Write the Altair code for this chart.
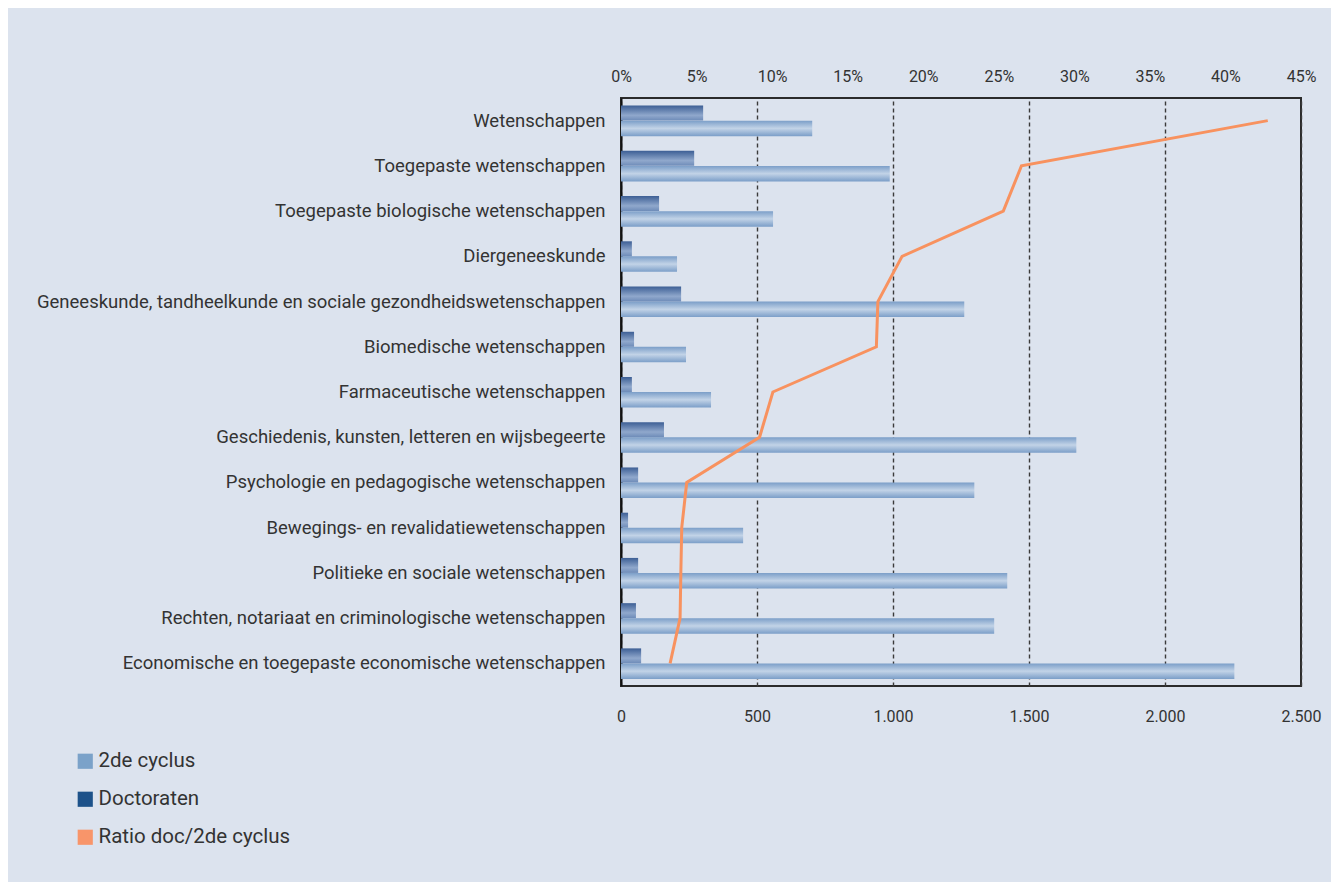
import altair as alt
import pandas as pd

categories = [
    "Wetenschappen",
    "Toegepaste wetenschappen",
    "Toegepaste biologische wetenschappen",
    "Diergeneeskunde",
    "Geneeskunde, tandheelkunde en sociale gezondheidswetenschappen",
    "Biomedische wetenschappen",
    "Farmaceutische wetenschappen",
    "Geschiedenis, kunsten, letteren en wijsbegeerte",
    "Psychologie en pedagogische wetenschappen",
    "Bewegings- en revalidatiewetenschappen",
    "Politieke en sociale wetenschappen",
    "Rechten, notariaat en criminologische wetenschappen",
    "Economische en toegepaste economische wetenschappen",
]
tweede_cyclus = [703, 988, 559, 206, 1262, 239, 331, 1674, 1299, 449, 1420, 1372, 2255]
doctoraten = [302, 269, 140, 40, 221, 48, 40, 158, 63, 26, 63, 55, 74]
ratio = [0.428, 0.265, 0.253, 0.186, 0.170, 0.169, 0.1005, 0.0917, 0.0435, 0.0402, 0.0396, 0.0391, 0.0325]

legend_labels = ["2de cyclus", "Doctoraten", "Ratio doc/2de cyclus"]
legend_colors = ["#7ba2c9", "#1d528a", "#f8956a"]
bottom_ticks = [0, 500, 1000, 1500, 2000, 2500]
top_ticks = [0, 0.05, 0.10, 0.15, 0.20, 0.25, 0.30, 0.35, 0.40, 0.45]

df = pd.DataFrame({"cat": categories, "tweede": tweede_cyclus, "doct": doctoraten, "ratio": ratio})
leg_df = pd.DataFrame({"series": legend_labels})

FONT = "Roboto"

grad_tweede = alt.Gradient(
    gradient="linear", x1=0, x2=0, y1=0, y2=1,
    stops=[alt.GradientStop(color="#7b9ec8", offset=0),
           alt.GradientStop(color="#c2d3e7", offset=0.5),
           alt.GradientStop(color="#7b9ec8", offset=1)],
)
grad_doct = alt.Gradient(
    gradient="linear", x1=0, x2=0, y1=0, y2=1,
    stops=[alt.GradientStop(color="#3d5f95", offset=0),
           alt.GradientStop(color="#90a8cc", offset=0.65),
           alt.GradientStop(color="#6d8bb8", offset=1)],
)

yenc = alt.Y(
    "cat:N", sort=categories, title=None,
    scale=alt.Scale(paddingInner=0, paddingOuter=0),
    axis=alt.Axis(ticks=False, domain=True, domainColor="#111111", domainWidth=2,
                  labelPadding=16, labelFontSize=18.5, labelColor="#333333", labelFont=FONT,
                  labelLimit=700),
)

xaxis_bottom = alt.Axis(
    orient="bottom", values=bottom_ticks, title=None, ticks=False, domain=False,
    grid=True, gridDash=[4, 3], gridColor="#3a3a3a", gridWidth=1.4,
    labelPadding=22, labelFontSize=16, labelColor="#333333", labelFont=FONT,
    labelFlush=False,
    labelExpr="replace(format(datum.value, ','), ',', '.')",
)
xscale_bottom = alt.Scale(domain=[0, 2500], nice=False)

base = alt.Chart(df)

bars_tweede = base.mark_bar(color=grad_tweede, height=15.5, yOffset=7.8).encode(
    y=yenc,
    x=alt.X("tweede:Q", scale=xscale_bottom, axis=xaxis_bottom),
)
bars_doct = base.mark_bar(color=grad_doct, height=15, yOffset=-7.5).encode(
    y=yenc,
    x=alt.X("doct:Q", scale=xscale_bottom, axis=xaxis_bottom),
)
bars = alt.layer(bars_tweede, bars_doct)

line = base.mark_line(color="#f8925f", strokeWidth=3).encode(
    y=yenc,
    x=alt.X("ratio:Q", scale=alt.Scale(domain=[0, 0.45], nice=False),
            axis=alt.Axis(orient="top", values=top_ticks, format=".0%", title=None,
                          ticks=False, domain=False, grid=False, labelPadding=14,
                          labelFlush=False,
                          labelFontSize=16, labelColor="#333333", labelFont=FONT)),
    order=alt.Order("idx:Q"),
).transform_window(idx="row_number()")

legend_layer = alt.Chart(leg_df).mark_square(size=0, opacity=0).encode(
    color=alt.Color(
        "series:N",
        scale=alt.Scale(domain=legend_labels, range=legend_colors),
        legend=alt.Legend(
            title=None, orient="none", legendX=-546, legendY=653, direction="vertical",
            symbolType="square", symbolSize=230, symbolOpacity=1, symbolStrokeWidth=0,
            labelFontSize=20.5, labelFont=FONT, labelColor="#333333", rowPadding=17,
            labelOffset=3, labelLimit=400,
        ),
    )
)

chart = alt.layer(bars, line, legend_layer).resolve_scale(x="independent").properties(
    width=680, height=588,
    autosize=alt.AutoSizeParams(type="none"),
    padding={"left": 613, "top": 90, "right": 30, "bottom": 196},
).configure(background="#dce3ee").configure_view(stroke="#2b2b2b", strokeWidth=2)

chart.save("out.html", embed_options={"renderer": "svg", "actions": False})
